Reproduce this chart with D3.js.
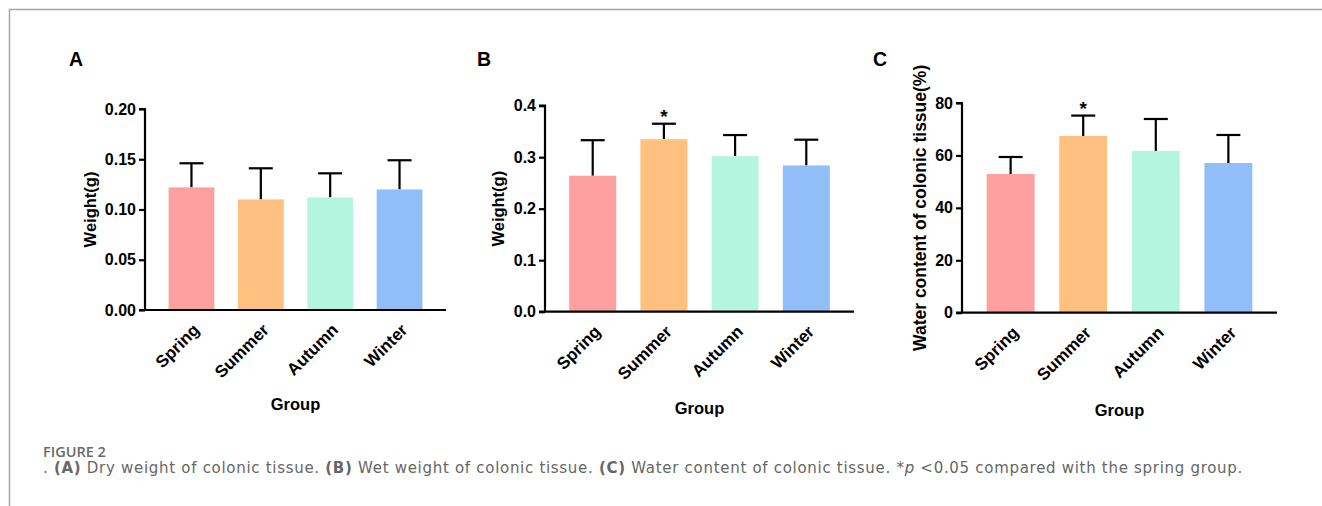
<!DOCTYPE html>
<html><head><meta charset="utf-8">
<script src="https://cdn.jsdelivr.net/npm/d3@7"></script>
<style>
body{margin:0;background:#fff;}
svg{display:block;}
</style></head>
<body>
<svg id="c" width="1322" height="506"></svg>
<script>
const groups = ["Spring","Summer","Autumn","Winter"];
const colors = ["#ffa0a0","#ffc080","#b3f5de","#91bef8"];

const dryMean = [0.122, 0.110, 0.112, 0.120];
const dryErr  = [0.146, 0.141, 0.136, 0.149];
const dryTicks = [0, 0.05, 0.10, 0.15, 0.20];

const wetMean = [0.264, 0.335, 0.302, 0.284];
const wetErr  = [0.333, 0.365, 0.343, 0.334];
const wetTicks = [0, 0.1, 0.2, 0.3, 0.4];

const waterMean = [52.9, 67.4, 61.7, 57.1];
const waterErr  = [59.4, 75.2, 73.9, 67.8];
const waterTicks = [0, 20, 40, 60, 80];

const stars = [false, true, false, false];

const svg = d3.select("#c");
const FONT = "Arial, 'Liberation Sans', sans-serif";

// frame
svg.append("path").attr("d","M9.5,506 L9.5,9.5 L1322,9.5")
  .attr("fill","none").attr("stroke","#a8a8a8").attr("stroke-width",1.5);

const panels = [
  {title:"A", tx:69, ty:66, x0:145, x1:446, yTop:109, yBot:310, max:0.2, ticks:dryTicks, fmt:d3.format(".2f"),
   mean:dryMean, err:dryErr, ylab:"Weight(g)", ylx:92, ylfs:16.5, star:false, glY:410},
  {title:"B", tx:477, ty:66, x0:545, x1:854, yTop:105.7, yBot:311.7, max:0.4, ticks:wetTicks, fmt:d3.format(".1f"),
   mean:wetMean, err:wetErr, ylab:"Weight(g)", ylx:500, ylfs:16.5, star:true, glY:414},
  {title:"C", tx:873, ty:66, x0:962, x1:1277, yTop:103, yBot:312.7, max:80, ticks:waterTicks, fmt:d3.format("d"),
   mean:waterMean, err:waterErr, ylab:"Water content of colonic tissue(%)", ylx:921, ylfs:17.5, star:true, glY:416}
];

panels.forEach(p => {
  const g = svg.append("g");
  const x = d3.scaleBand().domain(groups).range([p.x0, p.x1]).paddingInner(0.34).paddingOuter(0.34);
  const y = d3.scaleLinear().domain([0, p.max]).range([p.yBot, p.yTop]);

  g.append("text").attr("x",p.tx).attr("y",p.ty).text(p.title)
    .attr("font-family",FONT).attr("font-weight","bold").attr("font-size",19.5).attr("fill","#000");

  groups.forEach((d,i) => {
    const cx = x(d) + x.bandwidth()/2;
    g.append("line").attr("x1",cx).attr("x2",cx).attr("y1",y(p.mean[i])).attr("y2",y(p.err[i]))
      .attr("stroke","#000").attr("stroke-width",2.2);
    g.append("line").attr("x1",cx-12).attr("x2",cx+12).attr("y1",y(p.err[i])).attr("y2",y(p.err[i]))
      .attr("stroke","#000").attr("stroke-width",2.2);
  });

  g.selectAll("rect.bar").data(groups).join("rect").attr("class","bar")
    .attr("x", d => x(d)).attr("width", x.bandwidth())
    .attr("y", (d,i) => y(p.mean[i])).attr("height", (d,i) => p.yBot - y(p.mean[i]))
    .attr("fill", (d,i) => colors[i]);

  if (p.star) {
    groups.forEach((d,i) => {
      if (!stars[i]) return;
      const cx = x(d) + x.bandwidth()/2;
      g.append("text").attr("x",cx).attr("y",y(p.err[i]) - 1).attr("text-anchor","middle")
        .attr("font-family",FONT).attr("font-weight","bold").attr("font-size",19).text("*");
    });
  }

  const ya = d3.axisLeft(y).tickValues(p.ticks).tickFormat(p.fmt).tickSize(6).tickPadding(3);
  const yg = g.append("g").attr("transform",`translate(${p.x0},0)`).call(ya);
  yg.select(".domain").attr("stroke","#000").attr("stroke-width",2.2).attr("d",`M-6,${p.yTop}H0V${p.yBot}`);
  yg.selectAll(".tick line").attr("stroke","#000").attr("stroke-width",2.2);
  yg.selectAll(".tick text").attr("font-family",FONT).attr("font-weight","bold").attr("font-size",16).attr("fill","#000");

  const xa = d3.axisBottom(x).tickSize(0).tickPadding(0);
  const xg = g.append("g").attr("transform",`translate(0,${p.yBot})`).call(xa);
  xg.select(".domain").attr("stroke","#000").attr("stroke-width",2.2).attr("d",`M${p.x0-6},0H${p.x1}`);
  xg.selectAll(".tick text")
    .attr("font-family",FONT).attr("font-weight","bold").attr("font-size",17).attr("fill","#000")
    .attr("text-anchor","end").attr("dy",null).attr("y",null)
    .attr("transform","translate(9,21) rotate(-45)");

  g.append("text").attr("transform",`translate(${p.ylx},${(p.yTop+p.yBot)/2}) rotate(-90)`)
    .attr("text-anchor","middle").attr("dominant-baseline","middle")
    .attr("font-family",FONT).attr("font-weight","bold").attr("font-size",p.ylfs).text(p.ylab);

  g.append("text").attr("x",(p.x0+p.x1)/2).attr("y",p.glY).attr("text-anchor","middle")
    .attr("font-family",FONT).attr("font-weight","bold").attr("font-size",16.5).text("Group");
});

// caption
const CF = "'DejaVu Sans', 'Open Sans', sans-serif";
svg.append("text").attr("x",43).attr("y",457).attr("font-family","'Open Sans', sans-serif").attr("font-size",14.5)
  .attr("font-weight",600).attr("fill","#6a6a6a").text("FIGURE 2");
const cap = svg.append("text").attr("x",43).attr("y",473).attr("font-family",CF).attr("font-size",15)
  .attr("fill","#666");
const parts = [[". ",""],["(A)","b"],[" Dry weight of colonic tissue. ",""],["(B)","b"],[" Wet weight of colonic tissue. ",""],
  ["(C)","b"],[" Water content of colonic tissue. *",""],["p","i"],[" <0.05 compared with the spring group.",""]];
parts.forEach(([t,s]) => {
  const ts = cap.append("tspan").text(t);
  if (s==="b") ts.attr("font-weight",700);
  if (s==="i") ts.attr("font-style","italic");
});
const targetW = 1200;
const curW = cap.node().getComputedTextLength();
const nChars = parts.map(d=>d[0]).join("").length;
cap.attr("letter-spacing", (targetW - curW) / nChars);
</script>
</body></html>
